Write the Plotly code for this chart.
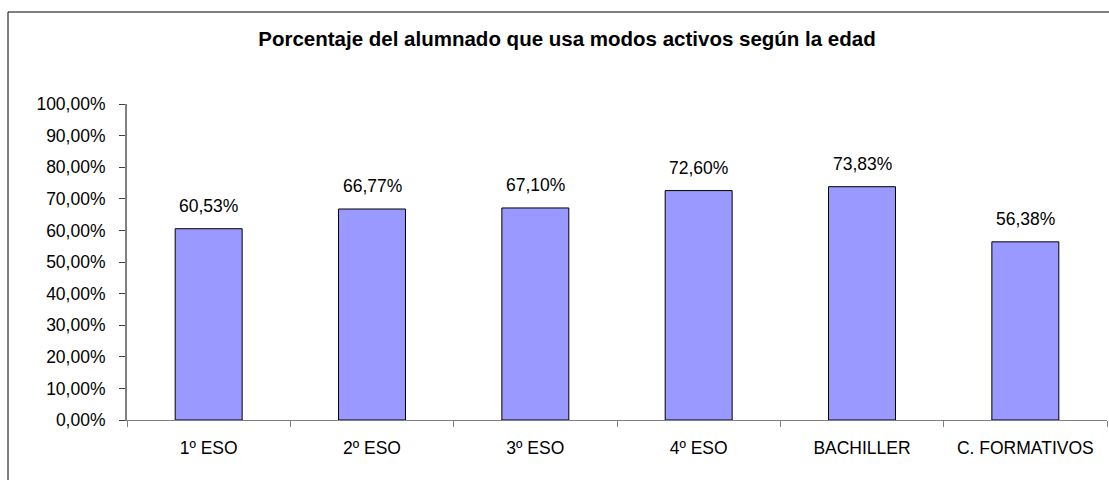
import plotly.graph_objects as go

categories = ["1º ESO", "2º ESO", "3º ESO", "4º ESO", "BACHILLER", "C. FORMATIVOS"]
values = [60.53, 66.77, 67.10, 72.60, 73.83, 56.38]
y_ticks = [0, 10, 20, 30, 40, 50, 60, 70, 80, 90, 100]
title_text = "Porcentaje del alumnado que usa modos activos según la edad"

labels = [f"{v:.2f}".replace(".", ",") + "%" for v in values]
y_ticktext = [f"{v:.2f}".replace(".", ",") + "%" for v in y_ticks]

FONT = "Liberation Sans, Arial, sans-serif"
FS = 17.5

fig = go.Figure()
fig.add_trace(go.Bar(
    x=categories, y=values,
    marker=dict(color="#9999FF", line=dict(color="#000000", width=1)),
    hoverinfo="skip",
))

for c, v, t in zip(categories, values, labels):
    fig.add_annotation(x=c, y=v, text=t, showarrow=False, xref="x", yref="y",
                       yanchor="bottom", yshift=11,
                       font=dict(family=FONT, size=FS, color="#000000"))

W, H = 1109, 480
ml, mr, mt, mb = 127, 2, 104, 60
pw, ph = W - ml - mr, H - mt - mb

fig.add_shape(type="rect", xref="paper", yref="paper",
              x0=(8 - ml) / pw, x1=1 + 30 / pw,
              y0=-(mb + 30) / ph, y1=1 + (mt - 12) / ph,
              line=dict(color="#000000", width=1), fillcolor="rgba(0,0,0,0)",
              layer="below")

fig.update_layout(
    width=W, height=H,
    margin=dict(l=ml, r=mr, t=mt, b=mb, pad=0),
    paper_bgcolor="white", plot_bgcolor="white",
    showlegend=False,
    bargap=0.59,
    font=dict(family=FONT, size=FS, color="#000000"),
    title=dict(text="<b>" + title_text + "</b>", x=567 / W, xanchor="center",
               y=1 - 39 / H, yanchor="middle", xref="container", yref="container",
               font=dict(family=FONT, size=20.5, color="#000000")),
    xaxis=dict(
        range=[-0.5, 5.5], showgrid=False, showline=True, linecolor="#808080", linewidth=1,
        ticks="outside", tickson="boundaries", ticklen=6, tickcolor="#808080",
        ticklabelstandoff=12,
        tickfont=dict(family=FONT, size=FS, color="#000000"),
    ),
    yaxis=dict(
        range=[0, 100], tickmode="array", tickvals=y_ticks, ticktext=y_ticktext,
        showgrid=False, showline=True, linecolor="#808080", linewidth=2,
        ticks="outside", ticklen=6, tickcolor="#404040",
        ticklabelstandoff=10, zeroline=False,
        tickfont=dict(family=FONT, size=FS, color="#000000"),
    ),
)

fig.write_html("out.html",
               config={"displayModeBar": False, "staticPlot": True},
               post_script="document.body.style.margin='0';document.body.style.overflow='hidden';")
